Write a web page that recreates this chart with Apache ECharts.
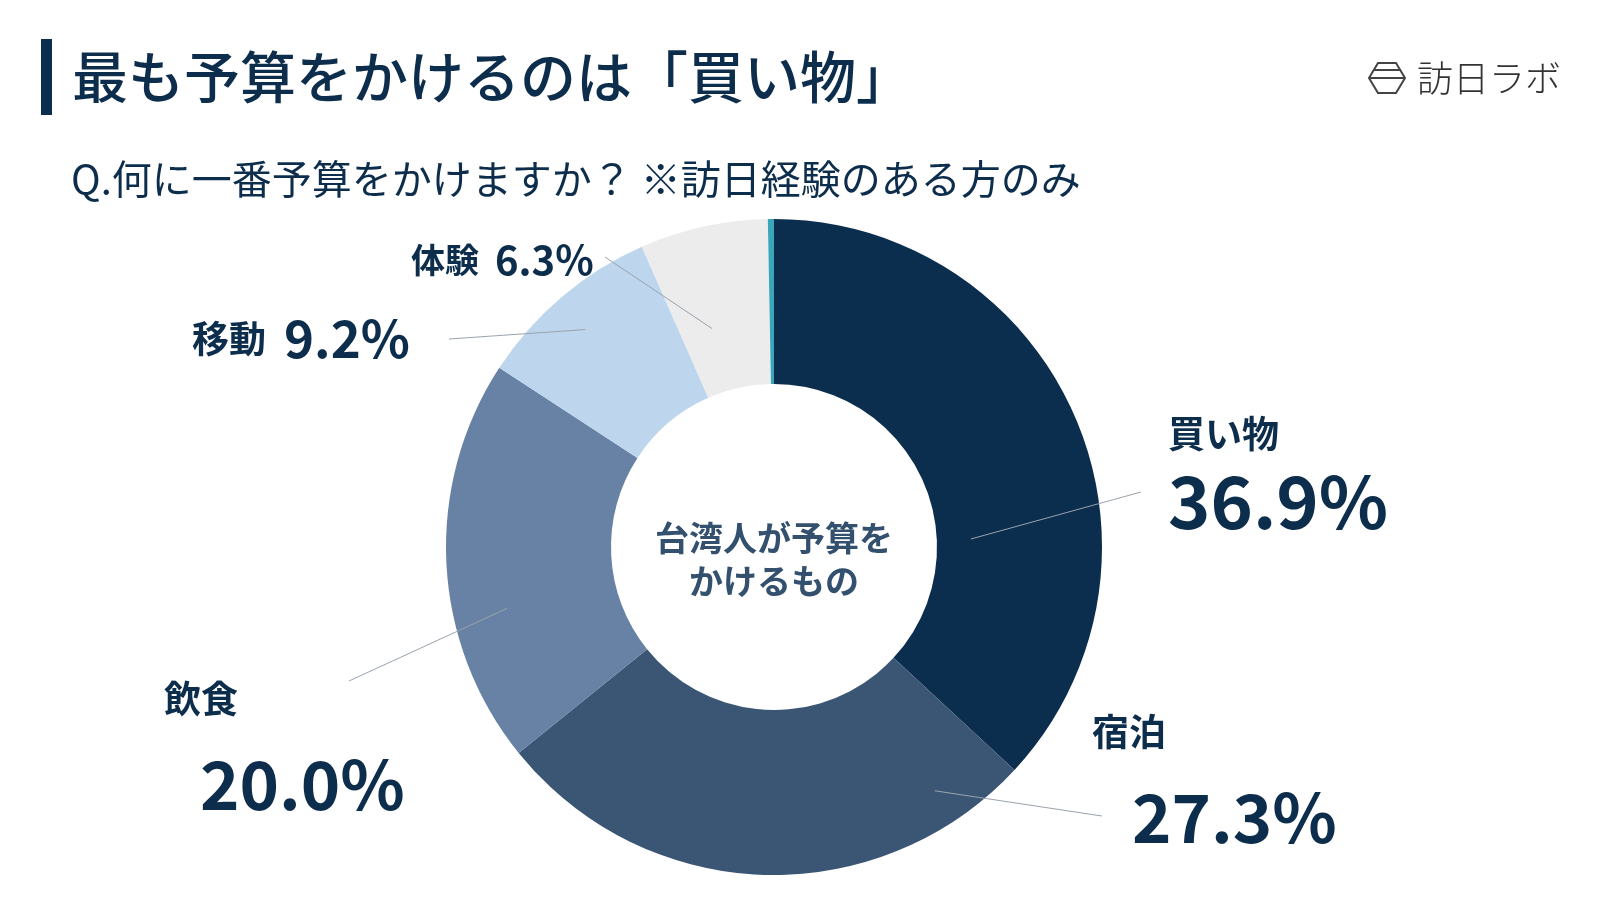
<!DOCTYPE html>
<html>
<head>
<meta charset="utf-8">
<script src="https://cdn.jsdelivr.net/npm/echarts@6/dist/echarts.min.js"></script>
<style>
html,body{margin:0;padding:0;background:#fff;}
#chart{width:1600px;height:900px;}
</style>
</head>
<body>
<div id="chart"></div>
<script>
// ---- data ----
const categories = ['買い物', '宿泊', '飲食', '移動', '体験', 'その他'];
const values = [36.9, 27.3, 20.0, 9.2, 6.3, 0.3];
const titleText = '最も予算をかけるのは「買い物」';
const subtitleText = 'Q.何に一番予算をかけますか？ ※訪日経験のある方のみ';
const centerText = '台湾人が予算を\nかけるもの';
const brandText = '訪日ラボ';

// ---- styling / layout ----
const colors = ['#0b2d4e', '#3b5675', '#6882a6', '#bdd6ee', '#ececec', '#3aa6b9'];
const navy = '#0d2d4c';
const FONT = '"Noto Sans CJK JP", "Noto Sans", sans-serif';
const CX = 774, CY = 547, R_IN = 163, R_OUT = 328;

// label anchor (left, vertical middle), format key, leader start (fraction of slice, radius), leader end
const labelSpots = [
  { x: 1168, y: 474, fmt: 'a', f: 0.66, r: 197, end: [1141, 492] },
  { x: 1092, y: 790, fmt: 'b', f: 0.14, r: 292, end: [1102, 816] },
  { x: 164,  y: 757, fmt: 'c', f: 0.36, r: 274, end: [349, 681] },
  { x: 192,  y: 339, fmt: 'd', f: 0.48, r: 288, end: [449, 339] },
  { x: 411,  y: 260, fmt: 'e', f: 0.35, r: 227, end: [605, 257] }
];

const total = values.reduce((s, v) => s + v, 0);
const cum = [];
values.reduce((s, v, i) => { cum[i] = s; return s + v; }, 0);
function polar(deg, r) {
  const a = deg * Math.PI / 180;
  return [CX + r * Math.sin(a), CY - r * Math.cos(a)];
}

const pieData = categories.map((name, i) => ({
  name: name,
  value: values[i],
  itemStyle: { color: colors[i] }
}));
const labelData = categories.map((name, i) => ({
  name: name,
  value: values[i],
  itemStyle: { color: 'rgba(0,0,0,0)' },
  label: { show: !!labelSpots[i] },
  labelLine: { show: !!labelSpots[i] }
}));

const chart = echarts.init(document.getElementById('chart'), null, { renderer: 'canvas' });

chart.setOption({
  animation: false,
  backgroundColor: '#ffffff',
  series: [{
    type: 'pie',
    z: 2,
    center: [CX, CY],
    radius: [R_IN, R_OUT],
    startAngle: 90,
    clockwise: true,
    silent: true,
    itemStyle: { borderWidth: 0 },
    label: { show: false },
    labelLine: { show: false },
    data: pieData
  }, {
    type: 'pie',
    z: 5,
    center: [CX, CY],
    radius: [R_IN, R_OUT],
    startAngle: 90,
    clockwise: true,
    avoidLabelOverlap: false,
    silent: true,
    itemStyle: { borderWidth: 0 },
    data: labelData,
    label: {
      show: true,
      position: 'outside',
      color: navy,
      fontFamily: FONT,
      formatter: function (p) {
        const spot = labelSpots[p.dataIndex];
        if (!spot) return '';
        const v = values[p.dataIndex].toFixed(1) + '%';
        const n = categories[p.dataIndex];
        switch (spot.fmt) {
          case 'a': return '{n|' + n + '}\n{va|' + v + '}';
          case 'b': return '{n|' + n + '}\n{vb|' + v + '}';
          case 'c': return '{n|' + n + '}\n{vc|' + v + '}';
          case 'd': return '{n|' + n + '}{vd|' + v + '}';
          default:  return '{m|' + n + '}{ve|' + v + '}';
        }
      },
      rich: {
        n:  { fontFamily: FONT, fontSize: 37, fontWeight: 'bold', color: navy, lineHeight: 56 },
        m:  { fontFamily: FONT, fontSize: 34, fontWeight: 'bold', color: navy, lineHeight: 50 },
        va: { fontFamily: FONT, fontSize: 72, fontWeight: 'bold', color: navy, lineHeight: 80 },
        vb: { fontFamily: FONT, fontSize: 67, fontWeight: 'bold', color: navy, lineHeight: 116, padding: [0, 0, 0, 40] },
        vc: { fontFamily: FONT, fontSize: 67, fontWeight: 'bold', color: navy, lineHeight: 116, padding: [0, 0, 0, 36] },
        vd: { fontFamily: FONT, fontSize: 51, fontWeight: 'bold', color: navy, lineHeight: 60, padding: [0, 0, 0, 18] },
        ve: { fontFamily: FONT, fontSize: 40, fontWeight: 'bold', color: navy, lineHeight: 50, padding: [0, 0, 0, 16] }
      }
    },
    labelLine: {
      show: true,
      lineStyle: { color: '#9aa3ad', width: 1 }
    },
    labelLayout: function (p) {
      const i = p.dataIndex;
      const spot = labelSpots[i];
      if (!spot) return {};
      const ang = (cum[i] + spot.f * values[i]) / total * 360;
      const start = polar(ang, spot.r);
      return {
        x: spot.x,
        y: spot.y,
        align: 'left',
        verticalAlign: 'middle',
        labelLinePoints: [start, spot.end, spot.end]
      };
    }
  }],
  graphic: [
    { type: 'rect', shape: { x: 41, y: 39, width: 11, height: 76 }, style: { fill: '#0b2d4e' } },
    { type: 'text', x: 72, y: 77,
      style: { text: titleText, font: '500 56px ' + FONT, fill: navy,
               align: 'left', verticalAlign: 'middle', textAlign: 'left', textVerticalAlign: 'middle' } },
    { type: 'text', x: 71, y: 179,
      style: { text: subtitleText, font: '400 40px ' + FONT, fill: navy,
               align: 'left', verticalAlign: 'middle', textAlign: 'left', textVerticalAlign: 'middle' } },
    { type: 'text', x: CX, y: 560, z: 10,
      style: { text: centerText, font: 'bold 34px ' + FONT, fill: '#34506f', lineHeight: 43,
               align: 'center', verticalAlign: 'middle', textAlign: 'center', textVerticalAlign: 'middle' } },
    // brand logo icon
    { type: 'polygon',
      shape: { points: [[1378, 63], [1396, 63], [1405, 78], [1396, 93], [1378, 93], [1369, 78]] },
      style: { fill: 'none', stroke: '#444', lineWidth: 2 } },
    { type: 'line', shape: { x1: 1374, y1: 70, x2: 1400, y2: 70 }, style: { stroke: '#444', lineWidth: 2 } },
    { type: 'line', shape: { x1: 1369, y1: 78, x2: 1405, y2: 78 }, style: { stroke: '#444', lineWidth: 2 } },
    { type: 'text', x: 1417, y: 78,
      style: { text: brandText, font: '300 36px ' + FONT, fill: '#333',
               align: 'left', verticalAlign: 'middle', textAlign: 'left', textVerticalAlign: 'middle' } }
  ]
});
</script>
</body>
</html>
